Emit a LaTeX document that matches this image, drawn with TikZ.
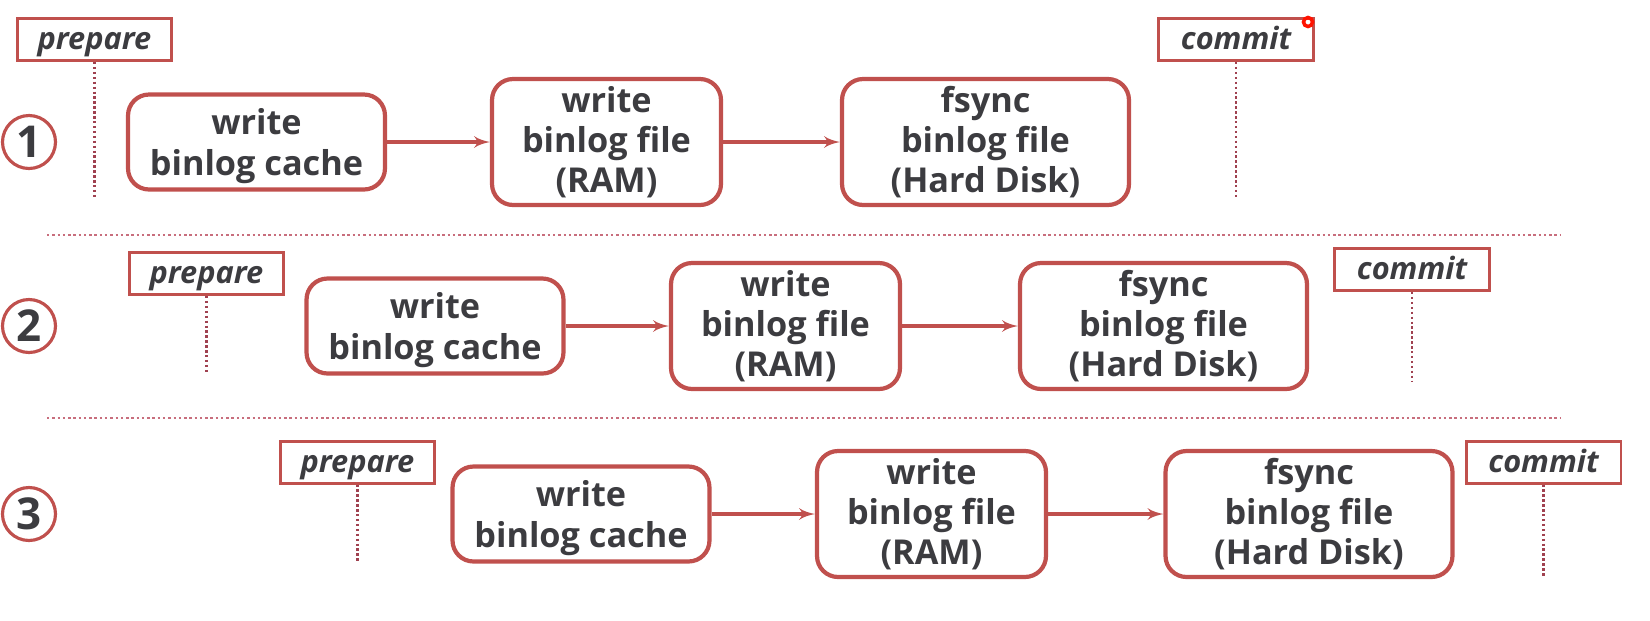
\documentclass[tikz,border=0pt]{standalone}
\usepackage{fontspec}
\setsansfont{Open Sans}
\usepackage{tikz}
\usetikzlibrary{shapes,arrows,positioning,calc}

\definecolor{boxred}{RGB}{192,80,77}
\definecolor{dotred}{RGB}{160,65,80}
\definecolor{sepred}{RGB}{200,110,125}
\definecolor{txtgray}{RGB}{60,60,64}

\tikzset{
  stage/.style={draw=boxred, line width=2.4pt, rounded corners=0.42cm, align=center,
    text=txtgray, font=\sffamily\bfseries\fontsize{19.5}{22.8}\selectfont, inner sep=0pt},
  cachebox/.style={stage, minimum width=5.14cm, minimum height=1.9cm, text depth=0pt},
  rambox/.style={stage, minimum width=4.58cm, minimum height=2.52cm},
  fsyncbox/.style={stage, minimum width=5.74cm, minimum height=2.52cm},
  tag/.style={draw=boxred, line width=1.7pt, minimum width=3.1cm, minimum height=0.84cm,
    inner sep=0pt, text height=12pt, text depth=0.6pt, text=txtgray,
    font=\sffamily\bfseries\itshape\fontsize{17.5}{20}\selectfont},
  num/.style={circle, draw=boxred, line width=1.8pt, minimum size=1.06cm, inner sep=0pt,
    text=txtgray, font=\sffamily\bfseries\fontsize{25}{28}\selectfont},
  link/.style={->, draw=boxred, line width=2.1pt},
  mark line/.style={draw=dotred, line width=1.5pt, dash pattern=on 1.4pt off 1.4pt},
  sep line/.style={draw=sepred, line width=1.4pt, dash pattern=on 1.4pt off 1.6pt}
}

\begin{document}
\begin{tikzpicture}[x=0.02cm, y=-0.02cm, >=latex']
  \useasboundingbox (0,0) rectangle (1650,620);

  % row 1
  \node [num] (num1) at (29,142) {1};
  \node [tag] (prep1) at (94.5,39.5) {prepare};
  \node [tag] (com1) at (1236,39.5) {commit};
  \node [cachebox] (cache1) at (256.5,142) {write\\binlog cache};
  \node [rambox] (ram1) at (606.5,142) {write\\binlog file\\(RAM)};
  \node [fsyncbox] (fsync1) at (985.5,142) {fsync\\binlog file\\(Hard Disk)};
  \coordinate (prep1end) at (94.5,198);
  \coordinate (com1end) at (1236,197);
  \draw [mark line] (prep1) -- (prep1end);
  \draw [mark line] (com1) -- (com1end);
  \draw [link] (cache1) -- (ram1);
  \draw [link] (ram1) -- (fsync1);
  \draw [red!85!orange, line width=2pt] (1308,22) circle (4.5);

  % separators
  \coordinate (sepAl) at (47,235);
  \coordinate (sepAr) at (1561,235);
  \coordinate (sepBl) at (47,418);
  \coordinate (sepBr) at (1561,418);
  \draw [sep line] (sepAl) -- (sepAr);
  \draw [sep line] (sepBl) -- (sepBr);

  % row 2
  \node [num] (num2) at (29,326) {2};
  \node [tag] (prep2) at (206.5,273.5) {prepare};
  \node [tag] (com2) at (1412,269.5) {commit};
  \node [cachebox] (cache2) at (435,326) {write\\binlog cache};
  \node [rambox] (ram2) at (785.5,326) {write\\binlog file\\(RAM)};
  \node [fsyncbox] (fsync2) at (1163.5,326) {fsync\\binlog file\\(Hard Disk)};
  \coordinate (prep2end) at (206.5,374);
  \coordinate (com2end) at (1412,382);
  \draw [mark line] (prep2) -- (prep2end);
  \draw [mark line] (com2) -- (com2end);
  \draw [link] (cache2) -- (ram2);
  \draw [link] (ram2) -- (fsync2);

  % row 3
  \node [num] (num3) at (29,514) {3};
  \node [tag] (prep3) at (357.5,462) {prepare};
  \node [tag] (com3) at (1543.5,462) {commit};
  \node [cachebox] (cache3) at (581,514) {write\\binlog cache};
  \node [rambox] (ram3) at (931.5,514) {write\\binlog file\\(RAM)};
  \node [fsyncbox] (fsync3) at (1309,514) {fsync\\binlog file\\(Hard Disk)};
  \coordinate (prep3end) at (357.5,563);
  \coordinate (com3end) at (1543.5,576);
  \draw [mark line] (prep3) -- (prep3end);
  \draw [mark line] (com3) -- (com3end);
  \draw [link] (cache3) -- (ram3);
  \draw [link] (ram3) -- (fsync3);
\end{tikzpicture}
\end{document}
